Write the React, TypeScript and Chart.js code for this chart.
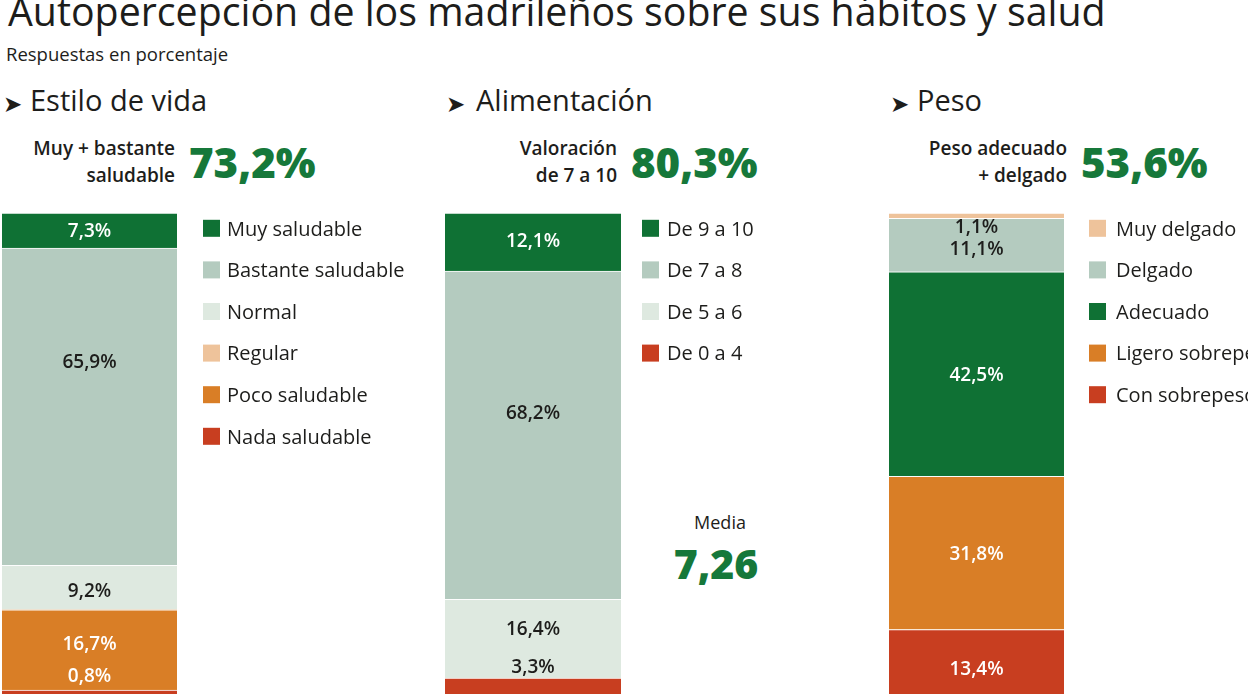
import React, { useEffect, useRef } from 'react';
import { Chart, registerables } from 'chart.js';

Chart.register(...registerables);

const FONT = '"Open Sans", sans-serif';
const INK = '#1d1d1b';
const GREEN_TEXT = '#16783a';

// ---- Data ----
const titleText = 'Autopercepción de los madrileños sobre sus hábitos y salud';
const subtitleText = 'Respuestas en porcentaje';

const lifestyleCategories = ['Muy saludable', 'Bastante saludable', 'Normal', 'Regular', 'Poco saludable', 'Nada saludable'];
const lifestyleValues = [7.3, 65.9, 9.2, 0, 16.7, 0.8];
const lifestyleHighlight = '73,2%';

const dietCategories = ['De 9 a 10', 'De 7 a 8', 'De 5 a 6', 'De 0 a 4'];
const dietValues = [12.1, 68.2, 16.4, 3.3];
const dietHighlight = '80,3%';
const dietMean = '7,26';

const weightCategories = ['Muy delgado', 'Delgado', 'Adecuado', 'Ligero sobrepeso', 'Con sobrepeso'];
const weightValues = [1.1, 11.1, 42.5, 31.8, 13.4];
const weightHighlight = '53,6%';

// ---- Styles ----
const C_DARK = '#0f7134';
const C_SAGE = '#b4cbbf';
const C_PALE = '#dee9e0';
const C_PEACH = '#eec39b';
const C_ORANGE = '#d97e26';
const C_RED = '#c83e20';
const W = '#ffffff';
const D = '#1d1d1b';

const fmt = (v: number) => v.toFixed(1).replace('.', ',') + '%';

const segmentPlugin = {
  id: 'segmentLabels',
  afterDatasetsDraw(chart: any) {
    const ctx = chart.ctx;
    ctx.save();
    ctx.font = `600 19px ${FONT}`;
    ctx.textAlign = 'center';
    ctx.textBaseline = 'alphabetic';
    chart.data.datasets.forEach((ds: any, i: number) => {
      const v = ds.data[0];
      if (!v) return;
      const el = chart.getDatasetMeta(i).data[0];
      const { x, y, base } = el.getProps(['x', 'y', 'base'], true);
      const cy = (y + base) / 2 + (ds.labelShift || 0);
      ctx.fillStyle = ds.labelColor;
      ctx.fillText(fmt(v), x, cy + 6.8);
    });
    ctx.restore();
  },
  afterDraw(chart: any, _args: any, opts: any) {
    const ctx = chart.ctx;
    const items = [...chart.data.datasets].reverse();
    ctx.save();
    ctx.font = `400 20px ${FONT}`;
    ctx.textAlign = 'left';
    ctx.textBaseline = 'alphabetic';
    items.forEach((d: any, k: number) => {
      const cy = opts.top + k * opts.step;
      ctx.fillStyle = d.backgroundColor;
      ctx.fillRect(opts.boxX, cy - 8.5, 17, 17);
      ctx.fillStyle = INK;
      ctx.fillText(d.label, opts.textX, cy + 7.2);
    });
    ctx.restore();
  },
};

type PanelProps = {
  name: string;
  categories: string[];
  values: number[];
  colors: string[];
  labelColors: string[];
  labelShifts: number[];
  left: number;
  width: number;
  padLeft: number;
  padRight: number;
  boxX: number;
  textX: number;
};

function BarPanel(p: PanelProps) {
  const ref = useRef<HTMLCanvasElement>(null);
  useEffect(() => {
    const total = p.values.reduce((a, b) => a + b, 0);
    const order = p.categories.map((_, i) => i).reverse();
    const chart = new Chart(ref.current as HTMLCanvasElement, {
      type: 'bar',
      data: {
        labels: [p.name],
        datasets: order.map((i) => ({
          label: p.categories[i],
          data: [p.values[i]],
          backgroundColor: p.colors[i],
          borderColor: 'rgba(255,255,255,0.9)',
          borderWidth: { top: 1, right: 0, bottom: 0, left: 0 },
          borderSkipped: false,
          barPercentage: 1,
          categoryPercentage: 1,
          labelColor: p.labelColors[i],
          labelShift: p.labelShifts[i],
        })) as any,
      },
      options: {
        responsive: false,
        animation: false,
        layout: { padding: { left: p.padLeft, right: p.padRight, top: 13, bottom: 4 } },
        scales: {
          x: { display: false, stacked: true },
          y: { display: false, stacked: true, min: 0, max: total },
        },
        plugins: {
          legend: { display: false },
          tooltip: { enabled: false },
          segmentLabels: { top: 28.3, step: 41.6, boxX: p.boxX, textX: p.textX },
        } as any,
      },
      plugins: [segmentPlugin as any],
    });
    return () => chart.destroy();
  }, []);
  return (
    <canvas
      ref={ref}
      width={p.width}
      height={498}
      style={{ position: 'absolute', left: p.left, top: 200 }}
    />
  );
}

type TProps = {
  x: number;
  base: number;
  size: number;
  weight?: number;
  color?: string;
  align?: 'left' | 'right' | 'center';
  family?: string;
  ratio?: number;
  children: React.ReactNode;
};

function T({ x, base, size, weight = 400, color = INK, align = 'left', family = FONT, ratio = 0.888, children }: TProps) {
  const style: React.CSSProperties = {
    position: 'absolute',
    top: base - ratio * size,
    fontSize: size,
    lineHeight: `${size}px`,
    fontWeight: weight,
    color,
    fontFamily: family,
    whiteSpace: 'nowrap',
    margin: 0,
  };
  if (align === 'left') style.left = x;
  else if (align === 'right') style.right = 1248 - x;
  else {
    style.left = x;
    style.transform = 'translateX(-50%)';
  }
  return <div style={style}>{children}</div>;
}

const ARROW_FONT = '"DejaVu Sans", sans-serif';

export default function App() {
  useEffect(() => {
    document.body.style.margin = '0';
    document.body.style.overflow = 'hidden';
    document.body.style.background = '#ffffff';
  }, []);
  return (
    <div style={{ position: 'relative', width: 1248, height: 698, overflow: 'hidden', background: '#fff' }}>
      <T x={8} base={26.7} size={39.3}>{titleText}</T>
      <T x={6} base={61.7} size={18.5}>{subtitleText}</T>

      <T x={3} base={112.5} size={23} family={ARROW_FONT} ratio={0.846}>➤</T>
      <T x={30} base={111} size={29}>Estilo de vida</T>
      <T x={446} base={112.5} size={23} family={ARROW_FONT} ratio={0.846}>➤</T>
      <T x={476} base={111} size={29}>Alimentación</T>
      <T x={890} base={112.5} size={23} family={ARROW_FONT} ratio={0.846}>➤</T>
      <T x={917} base={111} size={29}>Peso</T>

      <T x={175} base={156} size={19} weight={600} align="right">Muy + bastante</T>
      <T x={175} base={182.7} size={19} weight={600} align="right">saludable</T>
      <T x={189} base={178} size={42} weight={800} color={GREEN_TEXT}>{lifestyleHighlight}</T>

      <T x={617} base={156} size={19} weight={600} align="right">Valoración</T>
      <T x={617} base={182.7} size={19} weight={600} align="right">de 7 a 10</T>
      <T x={631} base={178} size={42} weight={800} color={GREEN_TEXT}>{dietHighlight}</T>

      <T x={1067} base={156} size={19} weight={600} align="right">Peso adecuado</T>
      <T x={1067} base={182.7} size={19} weight={600} align="right">+ delgado</T>
      <T x={1081} base={178} size={42} weight={800} color={GREEN_TEXT}>{weightHighlight}</T>

      <T x={720} base={529} size={18} align="center">Media</T>
      <T x={716} base={579.3} size={41} weight={800} color={GREEN_TEXT} align="center">{dietMean}</T>

      <BarPanel
        name="Estilo de vida"
        categories={lifestyleCategories}
        values={lifestyleValues}
        colors={[C_DARK, C_SAGE, C_PALE, C_PEACH, C_ORANGE, C_RED]}
        labelColors={[W, D, D, D, W, W]}
        labelShifts={[0, -46, 3, 0, -7, -17]}
        left={0}
        width={440}
        padLeft={2}
        padRight={263}
        boxX={203}
        textX={227}
      />
      <BarPanel
        name="Alimentación"
        categories={dietCategories}
        values={dietValues}
        colors={[C_DARK, C_SAGE, C_PALE, C_RED]}
        labelColors={[W, D, D, D]}
        labelShifts={[-2, -23.5, -10.7, -19.4]}
        left={440}
        width={440}
        padLeft={5}
        padRight={259}
        boxX={202}
        textX={227}
      />
      <BarPanel
        name="Peso"
        categories={weightCategories}
        values={weightValues}
        colors={[C_PEACH, C_SAGE, C_DARK, C_ORANGE, C_RED]}
        labelColors={[D, D, W, W, W]}
        labelShifts={[10.4, 2.7, 0, 0, 6.6]}
        left={880}
        width={368}
        padLeft={9}
        padRight={184}
        boxX={209}
        textX={236}
      />
    </div>
  );
}
